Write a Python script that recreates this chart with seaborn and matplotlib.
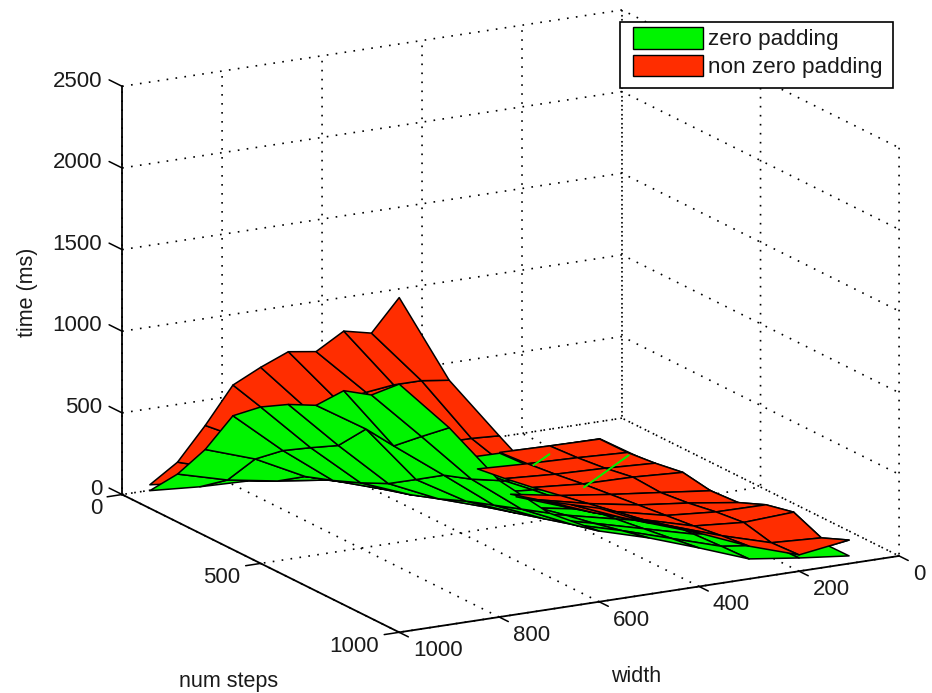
import numpy as np
import seaborn as sns
import matplotlib
matplotlib.use('Agg')
import matplotlib.pyplot as plt
from matplotlib.patches import Patch, Rectangle
from mpl_toolkits.mplot3d import proj3d

widths = [100, 200, 300, 400, 500, 600, 700, 800, 900, 1000]
num_steps = [100, 200, 300, 400, 500, 600, 700, 800, 900, 1000]

# rows = width, columns = num steps
zero_padding = [
    [5, 10, 15, 20, 25, 30, 35, 40, 45, 47],
    [5, 15, 25, 35, 45, 55, 65, 70, 75, 81],
    [10, 20, 35, 50, 70, 85, 95, 105, 115, 122],
    [15, 35, 55, 85, 110, 135, 160, 185, 210, 236],
    [25, 45, 75, 110, 150, 190, 230, 265, 305, 344],
    [35, 60, 95, 140, 205, 240, 290, 340, 390, 433],
    [55, 117, 180, 230, 280, 340, 410, 470, 530, 590],
    [75, 158, 270, 330, 400, 480, 589, 700, 760, 836],
    [85, 211, 424, 560, 662, 760, 945, 926, 1068, 1206],
    [108, 294, 529, 820, 958, 1058, 1137, 1311, 1369, 1520],
]
non_zero_padding = [
    [3, 5, 24, 52, 24, 36, 107, 146, 73, 144],
    [8, 20, 40, 70, 60, 80, 110, 130, 90, 100],
    [15, 30, 50, 75, 95, 115, 135, 155, 180, 200],
    [20, 45, 70, 100, 135, 170, 205, 240, 285, 327],
    [30, 60, 110, 150, 190, 240, 280, 330, 385, 435],
    [45, 100, 160, 220, 270, 330, 390, 450, 510, 573],
    [70, 150, 250, 330, 410, 490, 580, 678, 720, 730],
    [90, 210, 370, 490, 600, 700, 800, 900, 1010, 1110],
    [110, 270, 520, 720, 880, 1030, 1170, 1300, 1410, 1497],
    [144, 367, 676, 1008, 1201, 1381, 1466, 1676, 1748, 2050],
]
# first num steps column where red sits over green, for each width strip
red_over_from = [0, 0, 1, 4, 6]

# bits of the green mesh poking through the red one
peek_width = [[305, 247], [296, 129]]
peek_steps = [[231, 184], [397, 257]]
peek_time = [[50, 50], [50, 50]]

width_ticks = [0, 200, 400, 600, 800, 1000]
step_ticks = [0, 500, 1000]
time_ticks = [0, 500, 1000, 1500, 2000, 2500]

GREEN = '#00f400'
RED = '#ff2d00'

sns.set_theme(style="white")
plt.rcParams['font.family'] = ['Liberation Sans', 'DejaVu Sans']
plt.rcParams['text.color'] = '#1a1a1a'
plt.rcParams['grid.linestyle'] = (0, (1, 4.4))
plt.rcParams['grid.color'] = 'black'
plt.rcParams['grid.linewidth'] = 1.2

fig = plt.figure(figsize=(9.32, 6.93), dpi=100)
ax = fig.add_axes([0.0378, 0.0231, 1, 1], projection='3d', proj_type='ortho', computed_zorder=False)
ax.view_init(elev=16, azim=61)
ax.set_box_aspect((1, 1, 0.743), zoom=1.279)

X, Y = np.meshgrid(widths, num_steps, indexing='ij')
green = np.array(zero_padding)
red = np.array(non_zero_padding)

kw = dict(rstride=1, cstride=1, shade=False, edgecolor='black', linewidth=1.1, clip_on=False)
ax.plot_surface(X, Y, red, color=RED, zorder=3, **kw)
ax.plot_surface(X, Y, green, color=GREEN, zorder=4, **kw)
# flat part: red lies on top of green here
for i, start in enumerate(red_over_from):
    ax.plot_surface(X[i:i + 2, start:], Y[i:i + 2, start:], red[i:i + 2, start:], color=RED, zorder=5, **kw)

for pw, ps, pt in zip(peek_width, peek_steps, peek_time):
    ax.plot(pw, ps, pt, color=GREEN, lw=1.4, zorder=6, clip_on=False)

# tick marks run along the floor/wall like the original
for w in width_ticks:
    ax.plot([w, w], [1000, 1033], [0, 0], color='black', lw=1.1, zorder=2, clip_on=False)
for s in step_ticks:
    ax.plot([1000, 1030], [s, s], [0, 0], color='black', lw=1.1, zorder=2, clip_on=False)
for t in time_ticks:
    ax.plot([1000, 1000], [0, -47], [t, t], color='black', lw=1.1, zorder=2, clip_on=False)

ax.set_xlim(0, 1000)
ax.set_ylim(0, 1000)
ax.set_zlim(0, 2500)
ax.set_xticks(width_ticks)
ax.set_yticks(step_ticks)
ax.set_zticks(time_ticks)

for axis in (ax.xaxis, ax.yaxis, ax.zaxis):
    axis.pane.set_visible(False)
    axis.line.set_color('black')
    axis.line.set_linewidth(1.3)
    axis._axinfo['tick']['inward_factor'] = 0
    axis._axinfo['tick']['outward_factor'] = 0
    axis.label.set_visible(False)
    axis.offsetText.set_visible(False)
    for tick in axis.get_major_ticks():
        tick.label1.set_visible(False)


def label_at(w, s, t, text, ha):
    # tick labels follow the box edges like the original, mplot3d pads them elsewhere
    x, y, _ = proj3d.proj_transform(w, s, t, ax.get_proj())
    ax.text2D(x, y, text, transform=ax.transData, fontsize=16, ha=ha, va='center', zorder=7, clip_on=False)


for w in width_ticks:
    label_at(w, 1050, -70, str(w), 'left')
for s in step_ticks:
    label_at(1040, s, -67, str(s), 'right')
for t in time_ticks:
    label_at(1040, 0, t + 51, str(t), 'right')

fig.text(636 / 932, 1 - 676 / 693, 'width', fontsize=15.5, ha='center', va='center')
fig.text(229 / 932, 1 - 682 / 693, 'num steps', fontsize=15.5, ha='center', va='center')
fig.text(28 / 932, 1 - 292 / 693, 'time (ms)', fontsize=15.5, rotation=90, ha='center', va='center')

fig.add_artist(Rectangle((620 / 932, 1 - 88 / 693), 273 / 932, 66 / 693, facecolor='white',
                         edgecolor='black', linewidth=1.2, transform=fig.transFigure, zorder=8))
handles = [Patch(facecolor=GREEN, edgecolor='black', label='zero padding'),
           Patch(facecolor=RED, edgecolor='black', label='non zero padding')]
leg = fig.legend(handles=handles, loc='upper left', bbox_to_anchor=(633 / 932, 1 - 27 / 693), fontsize=16.2,
                 frameon=False, borderpad=0, borderaxespad=0, handlelength=3.1, handleheight=1.1,
                 labelspacing=0.18, handletextpad=0.25)
leg.set_zorder(9)

fig.savefig('out.png', dpi=100)
